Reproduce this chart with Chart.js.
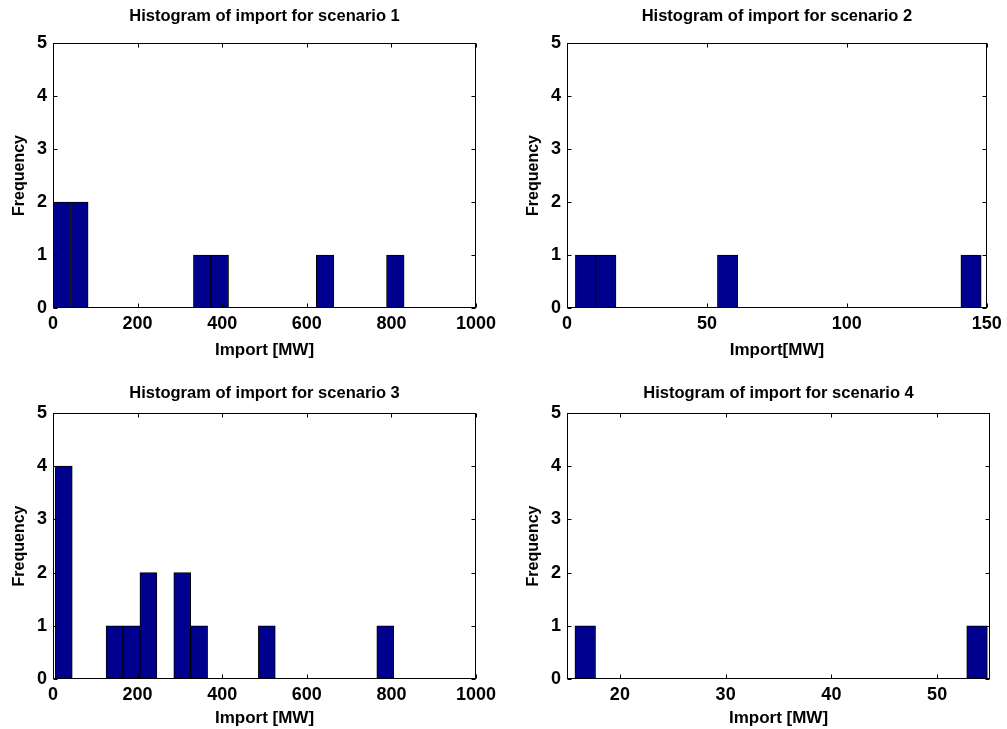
<!DOCTYPE html>
<html>
<head>
<meta charset="utf-8">
<title>Histogram of import</title>
<script src="https://cdn.jsdelivr.net/npm/chart.js@4.4.0/dist/chart.umd.min.js"></script>
<style>
  body { margin: 0; background: #fff; width: 1007px; height: 729px; overflow: hidden; position: relative; }
  canvas { position: absolute; }
</style>
</head>
<body>
<canvas id="c1" width="514" height="370" style="left:0;top:0"></canvas>
<canvas id="c2" width="493" height="370" style="left:514px;top:0"></canvas>
<canvas id="c3" width="514" height="359" style="left:0;top:370px"></canvas>
<canvas id="c4" width="493" height="359" style="left:514px;top:370px"></canvas>
<script>
// bin centres and counts (20 bins each)
const s1Bins = [20.75, 62.25, 103.75, 145.25, 186.75, 228.25, 269.75, 311.25, 352.75, 394.25,
                435.75, 477.25, 518.75, 560.25, 601.75, 643.25, 684.75, 726.25, 767.75, 809.25];
const s1Counts = [2, 2, 0, 0, 0, 0, 0, 0, 1, 1, 0, 0, 0, 0, 0, 1, 0, 0, 0, 1];
const s1Ticks = [0, 200, 400, 600, 800, 1000];

const s2Bins = [6.625, 13.875, 21.125, 28.375, 35.625, 42.875, 50.125, 57.375, 64.625, 71.875,
                79.125, 86.375, 93.625, 100.875, 108.125, 115.375, 122.625, 129.875, 137.125, 144.375];
const s2Counts = [1, 1, 0, 0, 0, 0, 0, 1, 0, 0, 0, 0, 0, 0, 0, 0, 0, 0, 0, 1];
const s2Ticks = [0, 50, 100, 150];

const s3Bins = [25.5, 65.5, 105.5, 145.5, 185.5, 225.5, 265.5, 305.5, 345.5, 385.5,
                425.5, 465.5, 505.5, 545.5, 585.5, 625.5, 665.5, 705.5, 745.5, 785.5];
const s3Counts = [4, 0, 0, 1, 1, 2, 0, 2, 1, 0, 0, 0, 1, 0, 0, 0, 0, 0, 0, 1];
const s3Ticks = [0, 200, 400, 600, 800, 1000];

const s4Bins = [16.725, 18.675, 20.625, 22.575, 24.525, 26.475, 28.425, 30.375, 32.325, 34.275,
                36.225, 38.175, 40.125, 42.075, 44.025, 45.975, 47.925, 49.875, 51.825, 53.775];
const s4Counts = [1, 0, 0, 0, 0, 0, 0, 0, 0, 0, 0, 0, 0, 0, 0, 0, 0, 0, 0, 1];
const s4Ticks = [20, 30, 40, 50];

const yTicks = [0, 1, 2, 3, 4, 5];

const FONT = 'Liberation Sans';
const BAR_COLOR = '#00008f';

// MATLAB style box with inward ticks
const boxPlugin = {
    id: 'matlabBox',
    afterDatasetsDraw(chart) {
        const { ctx, chartArea: a, scales: { x, y } } = chart;
        const l = Math.round(a.left) + 0.5, r = Math.round(a.right) - 0.5;
        const t = Math.round(a.top) + 0.5, b = Math.round(a.bottom) - 0.5;
        const len = 4;
        ctx.save();
        ctx.strokeStyle = '#000';
        ctx.lineWidth = 1;
        ctx.beginPath();
        x.ticks.forEach(tk => {
            const px = Math.round(x.getPixelForValue(tk.value)) + 0.5;
            ctx.moveTo(px, b); ctx.lineTo(px, b - len);
            ctx.moveTo(px, t); ctx.lineTo(px, t + len);
        });
        y.ticks.forEach(tk => {
            const py = Math.round(y.getPixelForValue(tk.value)) + 0.5;
            ctx.moveTo(l, py); ctx.lineTo(l + len, py);
            ctx.moveTo(r, py); ctx.lineTo(r - len, py);
        });
        ctx.stroke();
        ctx.strokeRect(l, t, r - l, b - t);
        ctx.restore();
    }
};

function makeChart(id, cfg) {
    const canvas = document.getElementById(id);
    const w = canvas.width, h = canvas.height;
    const L = 53, R = 476;
    const tickFont = { family: FONT, size: 18, weight: 'bold' };
    const titleFont = { family: FONT, size: 16.5, weight: 'bold' };
    const xlabelFont = { family: FONT, size: 17, weight: 'bold' };
    const ylabelFont = { family: FONT, size: 16, weight: 'bold' };
    return new Chart(canvas, {
        type: 'bar',
        data: {
            datasets: [{
                data: cfg.bins.map((b, i) => ({ x: b, y: cfg.counts[i] })),
                backgroundColor: BAR_COLOR,
                borderColor: '#000',
                borderWidth: 1,
                barPercentage: 1,
                categoryPercentage: 1
            }]
        },
        options: {
            responsive: false,
            animation: false,
            devicePixelRatio: 1,
            layout: { padding: { left: 0, top: 0, bottom: 0, right: w - R } },
            plugins: {
                legend: { display: false },
                tooltip: { enabled: false },
                title: {
                    display: true, text: cfg.title, fullSize: false, color: '#000',
                    font: titleFont,
                    padding: { top: cfg.titleTop, bottom: cfg.T - cfg.titleTop - 19.8 }
                }
            },
            scales: {
                x: {
                    type: 'linear', min: cfg.xmin, max: cfg.xmax, offset: false,
                    grid: { display: false, drawTicks: false, offset: false },
                    border: { display: false },
                    ticks: { color: '#000', font: tickFont, padding: 5.2, maxRotation: 0, autoSkip: false,
                             callback: v => String(v) },
                    afterBuildTicks: s => { s.ticks = cfg.xticks.map(v => ({ value: v })); },
                    title: { display: true, text: cfg.xlabel, color: '#000', font: xlabelFont, padding: { top: 0, bottom: cfg.xTitleBottom } },
                    afterFit: s => { s.height = h - cfg.B; }
                },
                y: {
                    min: 0, max: 5,
                    grid: { display: false, drawTicks: false },
                    border: { display: false },
                    ticks: { color: '#000', font: tickFont, padding: 6, callback: v => String(v) },
                    afterBuildTicks: s => { s.ticks = yTicks.map(v => ({ value: v })); },
                    title: { display: true, text: 'Frequency', color: '#000', font: ylabelFont, padding: { top: 9.5, bottom: 0 } },
                    afterFit: s => { s.width = L; }
                }
            }
        },
        plugins: [boxPlugin]
    });
}

makeChart('c1', { bins: s1Bins, counts: s1Counts, xticks: s1Ticks, title: 'Histogram of import for scenario 1', xlabel: 'Import [MW]',
    xmin: 0, xmax: 1000, T: 43, B: 308, titleTop: 6.1, xTitleBottom: 9.8 });
makeChart('c2', { bins: s2Bins, counts: s2Counts, xticks: s2Ticks, title: 'Histogram of import for scenario 2', xlabel: 'Import[MW]',
    xmin: 0, xmax: 150, T: 43, B: 308, titleTop: 6.1, xTitleBottom: 9.8 });
makeChart('c3', { bins: s3Bins, counts: s3Counts, xticks: s3Ticks, title: 'Histogram of import for scenario 3', xlabel: 'Import [MW]',
    xmin: 0, xmax: 1000, T: 43, B: 309, titleTop: 13.1, xTitleBottom: 0.8 });
makeChart('c4', { bins: s4Bins, counts: s4Counts, xticks: s4Ticks, title: 'Histogram of import for scenario 4', xlabel: 'Import [MW]',
    xmin: 15, xmax: 55, T: 43, B: 309, titleTop: 13.1, xTitleBottom: 0.8 });
</script>
</body>
</html>
